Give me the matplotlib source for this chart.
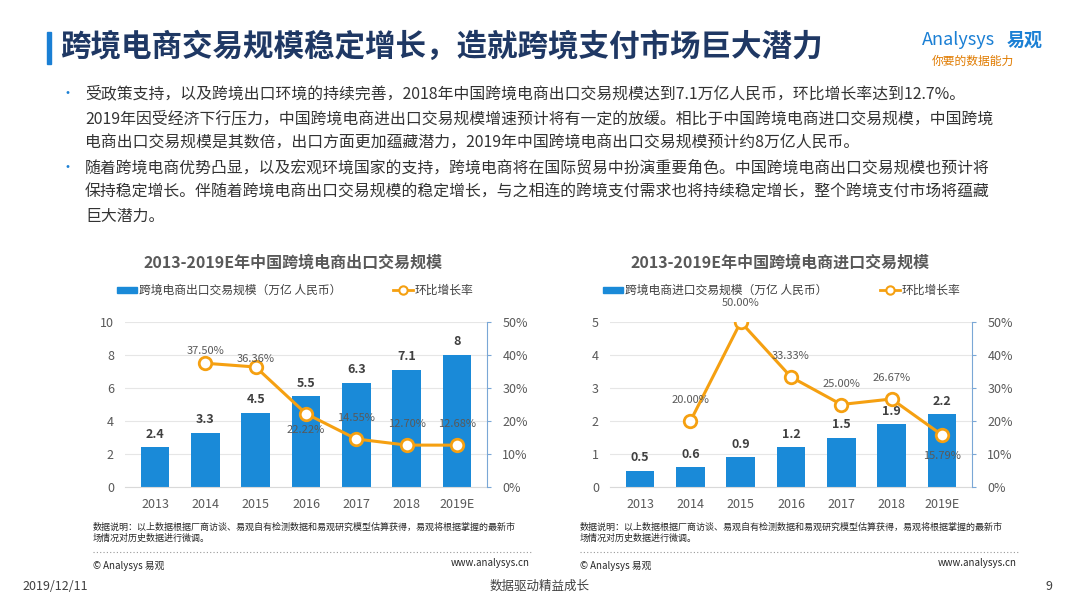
import matplotlib
matplotlib.use("Agg")
import matplotlib.pyplot as plt
import numpy as np

plt.rcParams['font.family'] = ['Noto Sans CJK SC', 'DejaVu Sans']

years = ["2013", "2014", "2015", "2016", "2017", "2018", "2019E"]
export_vals = [2.4, 3.3, 4.5, 5.5, 6.3, 7.1, 8]
export_growth = [None, 37.50, 36.36, 22.22, 14.55, 12.70, 12.68]
import_vals = [0.5, 0.6, 0.9, 1.2, 1.5, 1.9, 2.2]
import_growth = [None, 20.00, 50.00, 33.33, 25.00, 26.67, 15.79]

W, H = 1080, 608
fig = plt.figure(figsize=(10.8, 6.08), dpi=100)
fig.patch.set_facecolor("white")

def fx(x): return x / W
def fy(y): return 1 - y / H

# Title
fig.patches.append(plt.Rectangle((fx(47), fy(64)), fx(4), 32 / H, transform=fig.transFigure, color="#1a7fd4"))
fig.text(fx(60), fy(47), "跨境电商交易规模稳定增长，造就跨境支付市场巨大潜力", fontsize=22, fontweight="bold",
         color="#1f3864", va="center")
fig.text(fx(922), fy(40), "Analysys", fontsize=13, color="#1a7fd4", style="italic", va="center")
fig.text(fx(1007), fy(40), "易观", fontsize=13, color="#1a7fd4", fontweight="bold", va="center")
fig.text(fx(932), fy(61), "你要的数据能力", fontsize=8.5, color="#e07b00", style="italic", va="center")

bullets = [
    ["受政策支持，以及跨境出口环境的持续完善，2018年中国跨境电商出口交易规模达到7.1万亿人民币，环比增长率达到12.7%。",
     "2019年因受经济下行压力，中国跨境电商进出口交易规模增速预计将有一定的放缓。相比于中国跨境电商进口交易规模，中国跨境",
     "电商出口交易规模是其数倍，出口方面更加蕴藏潜力，2019年中国跨境电商出口交易规模预计约8万亿人民币。"],
    ["随着跨境电商优势凸显，以及宏观环境国家的支持，跨境电商将在国际贸易中扮演重要角色。中国跨境电商出口交易规模也预计将",
     "保持稳定增长。伴随着跨境电商出口交易规模的稳定增长，与之相连的跨境支付需求也将持续稳定增长，整个跨境支付市场将蕴藏",
     "巨大潜力。"],
]
y = 94
for b in bullets:
    fig.text(fx(60), fy(y), "•", fontsize=10, color="#1a7fd4", va="center")
    for line in b:
        fig.text(fx(85), fy(y), line, fontsize=11.4, color="#333333", va="center")
        y += 24.5

def chart(left_px, vals, growth, ymax):
    ax = fig.add_axes([fx(left_px), fy(487), fx(362), 165 / H])
    x = np.arange(len(years))
    ax.bar(x, vals, width=0.57, color="#1a8ad8", zorder=2)
    for xi, v in zip(x, vals):
        ax.text(xi, v + ymax * 0.04, f"{v:g}", ha="center", va="bottom", fontsize=9, fontweight="bold", color="#404040")
    ax.set_ylim(0, ymax)
    ax.set_xlim(-0.6, 6.6)
    ticks = np.linspace(0, ymax, 6)
    ax.set_yticks(ticks)
    ax.set_yticklabels([f"{t:g}" for t in ticks], fontsize=9, color="#595959")
    ax.set_xticks(x)
    ax.set_xticklabels(years, fontsize=9, color="#595959")
    ax.tick_params(length=0, pad=8)
    ax.grid(axis="y", color="#e6e6e6", lw=0.8, zorder=0)
    for s in ax.spines.values():
        s.set_visible(False)
    ax.spines["bottom"].set_visible(True)
    ax.spines["bottom"].set_color("#d9d9d9")
    ax2 = ax.twinx()
    gx = [xi for xi, g in zip(x, growth) if g is not None]
    gy = [g for g in growth if g is not None]
    ax2.plot(gx, gy, color="#f5a011", lw=2.2, marker="o", ms=9, mfc="white", mec="#f5a011", mew=2, zorder=3)
    ax2.set_ylim(0, 50)
    ax2.set_yticks([0, 10, 20, 30, 40, 50])
    ax2.set_yticklabels([f"{t}%" for t in range(0, 60, 10)], fontsize=9, color="#595959")
    for s in ax2.spines.values():
        s.set_visible(False)
    ax2.spines["right"].set_visible(True)
    ax2.spines["right"].set_color("#7aa7d6")
    ax2.tick_params(axis="y", length=3, color="#7aa7d6", pad=8)
    return ax, ax2, gx, gy

def notes(left_px):
    fig.text(fx(left_px), fy(527), "数据说明：以上数据根据厂商访谈、易观自有检测数据和易观研究模型估算获得，易观将根据掌握的最新市",
             fontsize=6.5, color="#262626", va="center")
    fig.text(fx(left_px), fy(538), "场情况对历史数据进行微调。", fontsize=6.5, color="#262626", va="center")
    fig.lines.append(plt.Line2D([fx(left_px), fx(left_px + 440)], [fy(552), fy(552)], transform=fig.transFigure,
                                color="#999999", lw=0.8, ls=(0, (1, 2))))
    fig.text(fx(left_px), fy(566), "© Analysys 易观", fontsize=7, color="#262626", va="center")
    fig.text(fx(left_px + 437), fy(563), "www.analysys.cn", fontsize=7, color="#262626", va="center", ha="right")

def legend(left_px, bar_label, line_x):
    fig.patches.append(plt.Rectangle((fx(left_px), fy(293)), fx(20), 6 / H, transform=fig.transFigure, color="#1a8ad8"))
    fig.text(fx(left_px + 22), fy(290), bar_label, fontsize=8.5, color="#404040", va="center")
    fig.lines.append(plt.Line2D([fx(line_x), fx(line_x + 20)], [fy(290), fy(290)], transform=fig.transFigure,
                                color="#f5a011", lw=2))
    fig.lines.append(plt.Line2D([fx(line_x + 10)], [fy(290)], transform=fig.transFigure,
                                color="#f5a011", marker="o", ms=6, mfc="white", mew=1.5, lw=0))
    fig.text(fx(line_x + 22), fy(290), "环比增长率", fontsize=8.5, color="#404040", va="center")

# Left chart
fig.text(fx(293), fy(263), "2013-2019E年中国跨境电商出口交易规模", fontsize=11.5, fontweight="bold", color="#595959", ha="center", va="center")
legend(117, "跨境电商出口交易规模（万亿 人民币）", 393)
ax, ax2, gx, gy = chart(125, export_vals, export_growth, 10)
offs = [(0, 9), (0, 6), (0, -12), (0, 15), (0, 15), (0, 15)]
for (xx, yy), (dx, dy) in zip(zip(gx, gy), offs):
    ax2.annotate(f"{yy:.2f}%", (xx, yy), xytext=(dx, dy), textcoords="offset points", ha="center", va="center",
                 fontsize=8, color="#595959")
notes(93)

# Right chart
fig.text(fx(780), fy(263), "2013-2019E年中国跨境电商进口交易规模", fontsize=11.5, fontweight="bold", color="#595959", ha="center", va="center")
legend(603, "跨境电商进口交易规模（万亿 人民币）", 880)
ax, ax2, gx, gy = chart(610, import_vals, import_growth, 5)
offs = [(0, 15), (0, 14), (0, 15), (0, 15), (0, 15), (0, -15)]
for (xx, yy), (dx, dy) in zip(zip(gx, gy), offs):
    ax2.annotate(f"{yy:.2f}%", (xx, yy), xytext=(dx, dy), textcoords="offset points", ha="center", va="center",
                 fontsize=8, color="#595959")
notes(580)

# Footer
fig.text(fx(22), fy(586), "2019/12/11", fontsize=9, color="#404040", va="center")
fig.text(fx(540), fy(586), "数据驱动精益成长", fontsize=9, color="#404040", va="center", ha="center")
fig.text(fx(1052), fy(586), "9", fontsize=9, color="#404040", va="center", ha="right")

fig.savefig("out.png", dpi=100)
